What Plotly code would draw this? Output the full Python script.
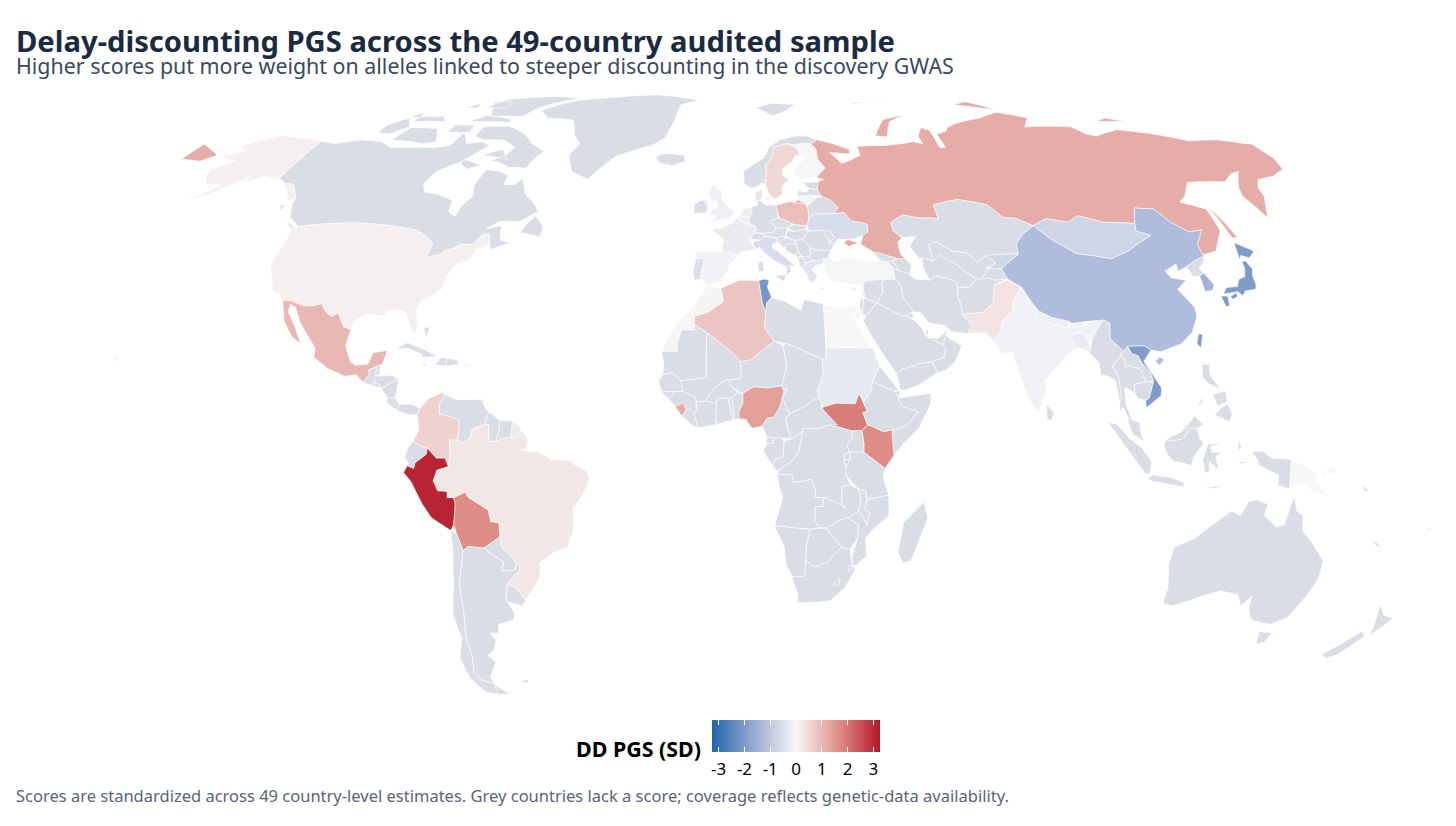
import plotly.graph_objects as go
from plotly.colors import sample_colorscale

# scores (SD units), everything else is grey
score_iso = ['USA', 'MEX', 'COL', 'PER', 'BOL', 'BRA', 'GUF', 'RUS', 'SWE', 'DNK', 'FIN', 'POL', 'EST', 'LTU', 'NLD', 'BEL',
             'UKR', 'GBR', 'FRA', 'ESP', 'PRT', 'ITA', 'GRC', 'TUR', 'EGY', 'SDN', 'MAR', 'ESH', 'DZA', 'TUN',
             'NGA', 'SLE', 'SSD', 'KEN', 'PAK', 'IND', 'BGD', 'NPL', 'BTN', 'KGZ', 'CHN', 'MNG',
             'KOR', 'JPN', 'VNM', 'TWN', 'PNG']
score_val = [0.12, 1.0, 0.6, 3.1, 1.7, 0.25, -0.25, 1.2, 0.5, 0.3, 0.03, 0.9, -0.6, -0.05, -0.2, -0.15,
             -0.55, -0.15, -0.25, -0.1, -0.5, -0.55, -0.4, 0.02, 0.0, -0.3, 0.05, 0.05, 0.8, -2.1,
             1.4, 1.2, 1.9, 1.7, 0.3, -0.1, -0.25, -0.2, -0.1, -0.65, -1.25, -0.73,
             -1.45, -2.0, -2.0, -2.0, 0.0]

title_text = 'Delay-discounting PGS across the 49-country audited sample'
subtitle_text = 'Higher scores put more weight on alleles linked to steeper discounting in the discovery GWAS'
caption_text = 'Scores are standardized across 49 country-level estimates. Grey countries lack a score; coverage reflects genetic-data availability.'
legend_title = 'DD PGS (SD)'
tick_vals = [-3, -2, -1, 0, 1, 2, 3]
tick_text = ['-3', '-2', '-1', '0', '1', '2', '3']

# colour scale ends, the legend runs a bit past +-3
scale_lim = 3.26
pgs_scale = [[0, '#2166ac'], [0.25, '#9aaad2'], [0.5, '#f7f7f7'], [0.75, '#e0918a'], [1, '#b2182b']]
no_data = '#d9dde5'

# rough hand-made country outlines, lon,lat pairs (no topojson without network)
outlines = {
    'CAN': ['-141,69.6 -135,69 -128,70 -120,69.5 -115,68 -108,68 -100,68 -95,68.5 -94,72 -90,69 -85,69.5 -81.5,68.5 -85,66 -87,64.5 -93,62 -94.5,59 -92.5,57 -88,56.5 -82.5,55 -82,52.5 -79.5,51.3 -79,54 -77,56 -78.5,58.7 -77.5,62.4 -73,62 -69.5,61 -69.5,58.8 -66,58.8 -64.5,60.3 -61.5,56.5 -58,54.5 -55.7,52.5 -60,50.2 -66,50.2 -69,48.5 -65,49.2 -64.5,47.5 -64,46 -61,45.3 -66,43.8 -66.5,45 -67.5,47.3 -69.5,47.3 -71,45 -74.7,45 -76.5,44 -79,43.3 -79,42.8 -83,42 -82.5,45.3 -84.5,46.5 -88.5,48.2 -95,49 -123,49 -127,51 -130,54.5 -130,55.5 -135,59 -137.5,59 -141,60.3',
            '-80,73.7 -76,72.8 -71,71 -67.5,69 -62,67 -64,65 -65,62.8 -71,63 -75,64.3 -78,64.6 -74,66 -72.5,68 -78,70 -85,70 -89,71 -89,73.5',
            '-117,70 -105,69 -101,69.5 -105,73 -115,73.3', '-90,76.5 -78,76.5 -75,79 -62,82.3 -72,83 -90,82 -95,80',
            '-125,72 -120,71.5 -116,73.5 -120,76 -125,74', '-96,75 -80,74.7 -82,75.8 -92,76.8', '-117,75 -105,75 -108,76.5 -117,76.3',
            '-95,79 -87,79 -88,81 -95,81', '-100,72 -92,72 -93,74 -100,74', '-87,65 -80,63.5 -84,62.5 -87,64',
            '-59,47.7 -53,46.7 -53,49 -56,51.5 -58,49.5', '-128,50.7 -123.5,48.4 -125,48.7', '-133,54 -131.5,54 -131.5,52.5',
            '-104,79 -99,79 -100,80.5', '-121,76.5 -116,76 -117,77.5', '-82,66 -73,65 -76,67.5'],
    'USA': ['-124.7,48.4 -123,49 -95,49 -88.5,48.2 -84.5,46.5 -82.5,45.3 -83,42 -79,42.8 -79,43.3 -76.5,44 -74.7,45 -71,45 -69.5,47.3 -67.5,47.3 -66.9,44.8 -70,43.7 -70.5,41.7 -74,40.6 -75.5,38 -76,35 -78,33.8 -81,32 -81.3,30 -80,26.8 -80.5,25.2 -81.8,26 -82.8,28 -84,30 -86,30.4 -89,30.3 -89.3,29.1 -91,29.2 -94,29.6 -97,28 -97.2,26 -99.3,26.8 -101.4,29.7 -103,29 -104.8,30 -106.5,31.8 -108.2,31.4 -111,31.3 -114.8,32.5 -117.1,32.5 -118.5,34 -120.6,34.6 -122.4,37.5 -124.3,40.3 -124.2,43 -124,46.2',
            '-141,69.6 -141,60.3 -137.5,59 -135,59 -130,55.5 -132,55 -135,57.5 -139,59.7 -146,60.8 -151,59.3 -150,61 -154,58.5 -158,56.3 -163,54.8 -158,57.5 -157,58.8 -162,59 -165,61 -166,62.5 -161,64.5 -168,65.6 -162,67 -166.5,68.3 -157,71.2 -150,70.5',
            '-156,20.2 -155,19.7 -155.7,19 -156,19.6'],
    'MEX': ['-117.1,32.5 -114.8,32.5 -111,31.3 -108.2,31.4 -106.5,31.8 -104.8,30 -103,29 -101.4,29.7 -99.3,26.8 -97.2,26 -97.8,22.5 -96,19 -94.5,18.2 -91.5,18.5 -90.5,21 -87,21.5 -87.8,18.3 -89.1,18 -91,17.2 -90.8,16 -92.2,14.5 -94,16.1 -97,15.8 -101.5,17.5 -105.5,20 -105.5,22 -109,25.8 -111,28 -113,31 -114.7,31.7 -114.5,30 -112,27 -110,24 -109.5,23 -112,24.5 -115,28 -116,30.5'],
    'GTM': ['-92.2,14.5 -90.8,16 -91,17.2 -89.1,17.8 -89.2,15.9 -88.3,15.7 -89.3,14.4 -90,13.8'],
    'BLZ': ['-89.1,18 -88.2,18.4 -88.3,16 -89.2,15.9'],
    'HND': ['-89.2,15.9 -88,15.8 -85,16 -83.2,15 -84.5,14.7 -87.3,13 -88,13.9 -89.3,14.4'],
    'SLV': ['-90,13.8 -89.3,14.4 -87.8,13.9 -87.8,13.2'],
    'NIC': ['-87.3,13 -84.5,14.7 -83.2,15 -83.7,11 -85.7,11.1'],
    'CRI': ['-85.7,11.1 -83.7,11 -82.6,9.6 -83,8.2 -85.7,9.9'],
    'PAN': ['-83,8.2 -82.6,9.6 -79.5,9.6 -77.3,8.7 -77.9,7.2 -80.3,7.3'],
    'CUB': ['-85,21.9 -82,23.2 -77,21.5 -74.2,20.2 -77.7,19.9 -78,20.7 -82,22'],
    'HTI': ['-74.4,18.4 -71.7,18 -71.7,19.8 -73,19.9'],
    'DOM': ['-71.7,18 -68.4,18.4 -69,19.4 -71.7,19.8'],
    'JAM': ['-78.3,18.3 -76.3,18 -77,18.5'],
    'PRI': ['-67,18 -65.7,18.2 -66.5,18.5'],
    'BHS': ['-78.5,26.6 -77,26.6 -77.5,24.2'],
    'TTO': ['-61.8,10.1 -61,10.2 -61.4,10.7'],
    'GRL': ['-73,78.2 -68,76 -58,75.5 -54,71 -51,69 -53,66 -50,62 -44,60 -42,62 -37,65.8 -26,68.5 -22,70.5 -20,75 -19,80 -12,81.5 -30,83.6 -50,82.5 -62,81.5 -68,80'],
    'COL': ['-77.3,8.7 -75.5,10.7 -72,12.2 -71.3,11.8 -72.5,9.3 -72.4,7.4 -70,7 -67.5,6.2 -67.3,3.5 -67.8,1.7 -69.8,1.7 -69.5,-1 -70,-4.2 -70.8,-2.3 -73,-2.3 -75.2,-0.1 -77,0.4 -78.8,1.4 -77.4,4 -77.9,7.2'],
    'VEN': ['-71.3,11.8 -68.2,10.6 -64,10.6 -62,10.7 -60.8,8.5 -60,8 -61,5.2 -64,4.1 -64.5,2 -66.3,1 -67.8,1.7 -67.3,3.5 -67.5,6.2 -70,7 -72.4,7.4 -72.5,9.3'],
    'GUY': ['-60,8 -57.2,6 -57.3,3.5 -58,1.5 -59.8,1.3 -60,5 -61,5.2'],
    'SUR': ['-57.2,6 -54,5.9 -54.2,3.5 -54.5,2.3 -56.5,1.9 -58,1.5 -57.3,3.5'],
    'GUF': ['-54,5.9 -51.7,4.2 -52.8,2.3 -54.5,2.3 -54.2,3.5'],
    'ECU': ['-78.8,1.4 -77,0.4 -75.2,-0.1 -75.5,-1.5 -78.3,-3.3 -78.7,-4.6 -80.3,-4 -80,-3.3 -81,-2.2 -80,0'],
    'PER': ['-75.2,-0.1 -73,-2.3 -70.8,-2.3 -70,-4.2 -72.9,-5 -73.9,-7.3 -72.9,-9.5 -70.5,-9.6 -70.6,-11 -69,-11 -68.7,-12.5 -69.2,-15.5 -69.5,-17 -70.4,-18.3 -75,-15.5 -77,-12.5 -79.5,-7.5 -81.3,-5.5 -80.3,-4 -78.7,-4.6 -78.3,-3.3 -75.5,-1.5'],
    'BOL': ['-69,-11 -66,-9.8 -65.3,-11 -60.5,-13.7 -60,-16.3 -58,-16.5 -58,-19.7 -62.5,-22.2 -66.3,-21.8 -67.8,-22.8 -69,-19 -69.5,-17 -69.2,-15.5 -68.7,-12.5'],
    'PRY': ['-58,-19.7 -57.8,-22.1 -55.5,-24 -54.6,-25.5 -54.8,-27 -58.5,-27.3 -57.7,-25.3 -62.5,-22.2'],
    'CHL': ['-70.4,-18.3 -69,-19 -67.8,-22.8 -68.4,-25 -70,-30 -70.4,-36 -71.8,-42 -71.8,-46 -73,-49.5 -72,-51.5 -68.4,-52.4 -68.6,-54.9 -72,-54.5 -75,-51 -75.5,-46.5 -73,-42 -73.6,-37 -71.5,-30 -70.4,-23'],
    'ARG': ['-66.3,-21.8 -62.5,-22.2 -57.7,-25.3 -58.5,-27.3 -54.8,-27 -54.6,-25.5 -53.7,-26.3 -53.8,-27.2 -55.7,-28.4 -57.6,-30.2 -58.2,-32.5 -58.4,-34 -57,-36.5 -57.5,-38 -62,-39 -62.5,-41 -65,-41 -63.8,-42.5 -65.5,-45 -67.5,-46 -65.8,-47.5 -69,-51 -68.4,-52.4 -72,-51.5 -73,-49.5 -71.8,-46 -71.8,-42 -70.4,-36 -70,-30 -68.4,-25 -67.8,-22.8',
            '-68.6,-52.7 -65.2,-54.8 -68.6,-54.9'],
    'URY': ['-57.6,-30.2 -55.5,-30.8 -53.4,-33.7 -54.5,-34.9 -58.4,-34 -58.2,-32.5'],
    'BRA': ['-51.7,4.2 -50,1.7 -50.5,0 -51.5,-0.6 -48.5,-1 -48,-0.7 -44.3,-2.5 -40,-2.9 -35.2,-5.3 -34.8,-7.5 -37,-11 -39,-13.5 -39.2,-18 -41,-22 -44.5,-23.1 -48.5,-25.5 -48.7,-28.5 -52,-32.2 -53.4,-33.7 -55.5,-30.8 -57.6,-30.2 -55.7,-28.4 -53.8,-27.2 -53.7,-26.3 -54.6,-25.5 -55.5,-24 -57.8,-22.1 -58,-19.7 -58,-16.5 -60,-16.3 -60.5,-13.7 -65.3,-11 -66,-9.8 -69,-11 -70.6,-11 -70.5,-9.6 -72.9,-9.5 -73.9,-7.3 -72.9,-5 -70,-4.2 -69.5,-1 -69.8,1.7 -67.8,1.7 -66.3,1 -64.5,2 -64,4.1 -61,5.2 -60,5 -59.8,1.3 -58,1.5 -56.5,1.9 -54.5,2.3 -52.8,2.3'],
    'FLK': ['-61,-51.8 -58,-51.5 -59,-52.3'],
    'ISL': ['-24,65.5 -22,64 -18,63.4 -14,64.5 -14.5,66 -18,66.3 -22,66.4'],
    'IRL': ['-10,52 -6.3,52.2 -6,53.5 -6.2,54.1 -7.5,55.2 -8.5,55 -10,54'],
    'GBR': ['-5.5,50 -1,50.7 1.3,51.2 1.7,52.7 0,53.5 -1.5,55 -2,56 -2,57.6 -4,57.6 -3,58.6 -5,58.6 -6,56.5 -4.8,55 -3.2,54.8 -3,53.5 -4.7,53 -5,51.7 -3,51.3',
            '-6.2,54.1 -5.5,54.6 -6.2,55.2 -7.5,55.2'],
    'NOR': ['5,59 7,58 8.5,58.2 10.6,59.2 11.5,59 12.2,61 12.2,63.5 14.5,65.5 15.5,68 20,69 23,68.6 25.5,69 28.5,69 31,70 28,71 24,71 18,70 14,68 12,65.5 8,63.5 5,62',
            '11,79 17,76.6 22,78 27,80 18,80.5'],
    'SWE': ['11.5,59 12.8,56 14.2,55.4 16.5,56.5 16.8,58.5 19,60 17.2,61 17.5,62.5 21,64.5 22.3,65.8 24,65.9 23.5,67.8 20.5,69 15.5,68 14.5,65.5 12.2,63.5 12.2,61'],
    'FIN': ['24,65.9 25.3,65.2 21.5,63 21.3,61 23,60 25.5,60.3 27.8,60.5 31.3,62.8 29.5,65 29.8,67.5 28.5,69 25.5,69 23,68.6 20.5,69 23.5,67.8'],
    'DNK': ['8.2,55 8.2,57 10.6,57.7 10.3,56 9.7,54.9', '11.2,55.7 12.5,56 12.2,55'],
    'DEU': ['6,51 7,53.5 8.7,54 8.6,54.9 9.7,54.9 11,54 14.2,53.9 14.7,51 12.2,50.3 13.7,48.7 13,47.5 7.6,47.6 8.2,49 6.2,49.5 6,50.7'],
    'NLD': ['3.5,51.4 4.7,53 7,53.4 7,52 6,51 5.8,50.8'],
    'BEL': ['2.6,51 3.5,51.4 5.8,51.2 6.2,50.2 5.7,49.5 4.2,50'],
    'LUX': ['5.8,49.5 6.4,49.5 6.1,50.1'],
    'FRA': ['-1.8,43.4 -1.2,46 -4.7,48.4 -1.6,48.7 1.5,50 2.6,51 4.2,50 5.7,49.5 8.2,49 7.6,47.6 6,46.2 7.5,43.8 3.2,43.2 3,42.5',
            '8.6,42 9.5,42 9.3,43'],
    'ESP': ['-9.2,43.2 -1.8,43.4 3,42.5 0.5,40.6 -0.4,38.5 -2,36.8 -5.5,36 -7.4,37.2 -7,39.6 -6.5,41.8 -8.8,41.9'],
    'PRT': ['-8.8,41.9 -6.5,41.8 -7,39.6 -7.4,37.2 -9,37 -9.5,38.7'],
    'CHE': ['6,46.2 7.6,47.6 9.5,47.5 10.4,46.7 9,46'],
    'AUT': ['9.6,47.5 13,47.6 13.7,48.7 17,48.8 16.2,46.9 13.5,46.5 10.4,46.8'],
    'ITA': ['7.5,43.8 6.9,45.5 9,46 10.4,46.7 13.5,46.5 13.7,45.5 12.3,45 12.5,44 13.7,43.5 16,41.9 18.4,40 16.8,40.3 17,39 15.7,38 15.8,40 12.5,41.4 10.2,43 8.8,44.4',
            '12.5,38 15.6,38.2 15,36.7', '8.2,39 9.7,39 9.5,41.2 8.2,41'],
    'POL': ['14.2,53.9 18.5,54.8 23,54.3 23.8,52.6 23.5,51 22.7,49.2 19,49.4 14.9,51'],
    'CZE': ['12.2,50.3 14.9,51 18.8,49.6 17,48.8 13.7,48.7'],
    'SVK': ['17,48.8 18.8,49.5 22.5,49.1 22,48.4 18.8,47.8'],
    'HUN': ['16.2,46.9 17,48.2 18.8,47.9 22,48.4 22.9,48 21,46.2 18.8,45.9'],
    'SVN': ['13.5,46.5 16.2,46.9 15.5,45.6 13.7,45.5'],
    'HRV': ['13.7,45.5 15.5,46 16.5,46.5 18.8,45.9 19,45 16,45 15.5,44 18.5,42.5 16,43.4 14.8,45'],
    'BIH': ['16,45.1 19,45 19.5,43.5 18.5,42.5 15.8,44'],
    'SRB': ['18.8,45.9 21,46.2 22.6,44.5 22.9,43 22.4,42.3 20.6,42 19.5,43.3 19,45'],
    'MNE': ['18.5,42.5 19.5,43.3 20,42.6 19.3,42'],
    'ALB': ['19.3,42 20.5,42.2 21,40.8 20.2,39.6 19.4,40.5'],
    'MKD': ['20.5,42.2 22.4,42.3 23,41.3 21,40.9'],
    'GRC': ['20.2,39.6 21,40.8 23,41.3 26.3,41.7 26,40.8 23.5,40.2 22.8,39.3 24,38 23,36.5 21.7,36.8 21.2,38.4', '23.5,35.5 26.3,35.2 24.5,35'],
    'BGR': ['22.6,44.2 24.8,43.7 28.5,43.7 27.6,42.5 28,42 26.3,41.7 23,41.3 22.4,42.3 22.9,43'],
    'ROU': ['21,46.2 22.9,48 26.6,48.2 28.2,46.5 28.2,45.4 29.7,45.2 28.6,43.7 24.8,43.7 22.6,44.2'],
    'MDA': ['26.6,48.2 29,48 30,46.4 28.2,45.4 28.2,46.5'],
    'UKR': ['22.9,48 22.7,49.2 23.5,51 25,51.9 31,52 34,52.3 35.5,50.4 40,49.6 39.8,47.8 38.2,47.1 35,46.2 33.6,46.1 30.8,46.2 29.7,45.2 28.2,45.4 30,46.4 29,48 26.6,48.2'],
    'BLR': ['23.5,51 23.6,53.9 26.5,55.6 28.2,56.1 31,55 32.5,53.3 31,52 25,51.9'],
    'LTU': ['21,56 21,55.2 23,54.3 23.6,53.9 26.5,55.6 25,56.3'],
    'LVA': ['21,56 25,56.3 28.2,56.1 27.5,57.5 25,58 24.4,57.2 23,57 21.6,57.5'],
    'EST': ['23.5,59.2 28,59.5 27.4,57.6 25,58 24.3,58.3'],
    'CYP': ['32.4,35 34.5,35.5 33.7,34.8'],
    'TUR': ['26,40 26.3,41.7 28,42 29,41.2 33,42 38,41 41.5,41.5 43.5,41.1 44.7,39.7 44.8,37.2 42.3,37.2 36.7,36.8 36,36 32.5,36 30.5,36.5 28,36.7 26.5,38.5'],
    'GEO': ['40,43.4 46.5,41.8 45,41.3 43.5,41.1 41.5,41.5'],
    'ARM': ['43.5,41.1 45,41.3 46.5,39 44.7,39.7'],
    'AZE': ['45,41.3 46.5,41.8 48.5,41.8 50,40.3 48.8,38.4 46.5,39'],
    'RUS': ['28,59.5 30,60 27.8,60.5 31.3,62.8 29.5,65 29.8,67.5 28.5,69 31,70 36,69 41,67.5 40.5,66.3 34,66.7 37,64 40,64.7 44,66 44,68.3 54,68.5 60,69 64,69.5 67,69 67,71 70,73.3 72.5,72.5 72,68 74,68 74,71.5 78,72.3 80,73.5 87,75 95,76 104,77.7 113,76 108,73.5 115,73.7 125,73.5 127,71.5 130,71 140,72.7 150,71.7 160,69.7 170,70 178,69 180,68.9 180,65 178,62.5 172,60.8 166,60 163,58 162,56 156.7,51 155.5,56 157,58 163,62 160,61.5 155,59.5 143,59.3 138,56 135,54.7 141,53 140,48 135,43.5 131,42.7 130.7,42.3 131,45 135,48.3 131,47.8 127.5,50 125.5,53 120,53.3 117,49.7 108,50 102,51.5 98,50 92,50.8 87.5,49.2 83,51 80,51 77,54 71,55 69,55.3 61,54 61,50.8 59,51 55,51 51,51.7 47,50 47,48 49,46.5 47.5,45.5 47.5,43 48.5,41.8 46.5,41.8 40,43.4 37,45 38.2,47.1 39.8,47.8 40,49.6 35.5,50.4 34,52.3 31,52 32.5,53.3 31,55 28.2,56.1 27.4,57.6',
            '-180,68.9 -175,67.5 -170,66 -173,64.5 -180,65', '142,54 143,50 143.5,46.5 142,46.5 142,50', '52,71 56,70.8 60,75 68,77 58,75.5',
            '91,80 97,81 105,78.5 100,79', '137,75 148,75 142,76', '48,80.2 60,81 65,81 52,80.8', '19.8,54.4 22.8,54.4 21,55.2', '33.6,46.1 36.5,45.3 33.5,44.5 32.5,45.4'],
    'KAZ': ['47,48 47,50 51,51.7 55,51 59,51 61,50.8 61,54 69,55.3 71,55 77,54 80,51 83,51 87.5,49.2 83,47 80.5,45 80,42.8 75,42.8 71,42.5 68,41 66,43 62,43.5 58.5,45.5 56,45 56,41.3 53,42 52.5,41.7 50.5,44.5 53,46.8 49,46.5'],
    'UZB': ['56,45 58.5,45.5 62,43.5 66,43 68,41 71,42.5 73,40.8 71,40 68,37.2 66.5,37.3 64,39 61.5,41 58,42.5 56,41.3'],
    'TKM': ['53,42 56,41.3 58,42.5 61.5,41 64,39 66.5,37.3 64,35.3 61,35.6 61,36.7 56,38 54,37 53,39.5'],
    'KGZ': ['71,42.5 75,42.8 80,42.8 74,39.5 70,39.8 71,40 73,40.8'],
    'TJK': ['68,37.2 71,40 70,39.8 74,39.5 75,37.2 71.5,37 70,37.5'],
    'AFG': ['61,35.6 64,35.3 66.5,37.3 68,37.2 70,37.5 71.5,37 74.8,37.2 71,36 70,33.5 69.5,31.8 66.3,29.9 61,29.5 61,31.5 60.5,33.5'],
    'PAK': ['61,29.5 66.3,29.9 69.5,31.8 70,33.5 71,36 74.8,37 77.8,35.5 75,32.5 74,30 71,28 70,25.5 68,23.7 66.5,25.4 61.6,25.2 63,27'],
    'IND': ['68,23.7 70,25.5 71,28 74,30 75,32.5 77.8,35.5 79.5,32.5 81,30.2 80,28.8 84,27.3 88,26.5 88.8,27.2 89,26.8 92,26.8 94,28 97.3,28.2 95,26 93.5,24 92.3,23.5 91.5,24 92.3,25 89.8,25.3 88.2,24.5 88.8,22 86.5,20.5 82,16.5 80.2,15 80,12 78,8.2 76.5,9 74.5,14 73,19 72.8,21 70,20.8 69,22.3'],
    'NPL': ['80,28.8 81,30.2 84,28.8 88,28 88,26.5 84,27.3'],
    'BTN': ['88.8,27.2 91.5,28 92,26.8 89,26.8'],
    'BGD': ['88.8,22 88.2,24.5 89.8,25.3 92.3,25 91.5,24 92.3,23.5 92.5,21 90,22'],
    'LKA': ['80,9.7 81.8,7.5 81,6 80,6.2'],
    'CHN': ['74,39.5 80,42.8 80.5,45 83,47 87.5,49.2 91,46 96,43 105,41.8 111,43.6 119.5,47 116,48 117,49.7 120,53.3 125.5,53 127.5,50 131,47.8 135,48.3 131,45 130.7,42.3 128,41.5 124.4,40 121.5,39 122,40.6 118,39 119,37.5 122.6,37 119.3,35 122,31 121.8,29 119.5,25.5 116,22.9 110.5,21.2 108,21.6 106.5,22.5 102.2,22.4 101,21.3 98,24 98.7,27.5 97.3,28.2 94,28 92,27.8 89,27.5 88,28 84,28.8 81,30.2 79.5,32.5 78,35.5 75,37.2',
            '108.7,19.2 110,20 111,19.5 109.5,18.2'],
    'TWN': ['120.1,23 121,25.2 122,25 120.9,22'],
    'MNG': ['87.5,49.2 92,50.8 98,50 102,51.5 108,50 117,49.7 116,48 119.5,47 111,43.6 105,41.8 96,43 91,46'],
    'PRK': ['124.4,40 128,41.5 130.7,42.3 129.7,41 127.5,39.5 128.3,38.6 126.7,38 125,37.8'],
    'KOR': ['126.7,38 128.3,38.6 129.5,36 128.5,34.8 126.3,34.5 126.7,37'],
    'JPN': ['130.9,34 132.5,35.4 135.5,35.6 136.8,37.2 138.8,37.8 140,39.7 140.3,41.2 141.4,41.3 142,39.5 141,38 140.7,36 140,35 137,34.6 135.8,33.5 135,34.5 133,34.2',
            '130,33.5 131.8,33.5 131.3,31.3 130.3,31.2', '132.4,33.3 134.5,34.3 134.3,33.4 133,32.8', '140,41.5 141.5,45.4 145.5,43.5 143,42 141,42.5'],
    'MMR': ['92.3,21 93.5,24 95,26 97.3,28.2 98.7,27.5 98,24 101,21.3 100,20.3 97.5,18 98.8,15.5 99,11 98.5,10 97.8,15 95.5,16 94.3,16 94.3,18.8'],
    'THA': ['100,20.3 101,19.5 100.8,18 102.5,17.9 104.7,17.4 105.5,14.5 102.5,14 102.5,12 100.9,13 100,13.4 100,9.5 101,6.8 101.8,5.9 100.3,6.7 99.2,9 98.3,8 98.5,10 99,11 98.8,15.5 97.5,18'],
    'LAO': ['101,21.3 102.2,22.4 103,20.8 104.5,20.3 105.2,18.7 107,16.6 107.5,14.7 105.5,14.5 104.7,17.4 102.5,17.9 100.8,18 101,19.5 100,20.3'],
    'KHM': ['102.5,14 105.5,14.5 107.5,14.7 106,11 105,10.4 103,11 102.5,12'],
    'VNM': ['102.2,22.4 106.5,22.5 108,21.6 105.7,19 107.2,16.6 109.3,13.2 109,11.5 105,8.8 105,10.4 106,11 107.5,14.7 107,16.6 105.2,18.7 104.5,20.3 103,20.8'],
    'MYS': ['100.3,6.7 101.8,5.9 103,5.7 103.5,2.6 104,1.4 101.3,3 100.3,5.5', '109.6,1.8 111,1.4 114,2 115.5,4.2 117.5,4.2 119,5.2 117,7 113.5,3.5 111,2.5'],
    'BRN': ['114,4.6 115,5 115,4.2'],
    'IDN': ['95.3,5.5 97.5,5.2 100.5,2 103.5,0 106,-3 105.8,-5.8 104.5,-5.7 100.5,-1', '105.2,-6.8 106.5,-6 110.5,-6.5 114.4,-7.7 114.4,-8.7 106.5,-7.4',
            '109,0.4 109.6,1.8 111,1.4 114,2 115.5,4.2 117.5,4.2 118,2 119,1 116.5,-2 116,-4 114,-3.4 111.5,-3 110,-1.5',
            '119.5,-5.5 118.8,-2.8 120,0.8 124,1 120.7,0.3 121,-1 123.5,-1 122,-2 123,-5 120.5,-3 120.5,-5.5', '119,-8.6 125,-8.5 122,-9',
            '131,-0.8 134,-0.8 136,-2.3 141,-2.6 141,-9.1 138,-8.3 138,-6 133,-4 132.5,-2.7', '127.5,2 128.5,0 127.7,-0.5', '128,-3 130.8,-3.3 128,-3.5'],
    'PHL': ['120.5,18.5 122.2,18.4 122,16 124,13 121.5,14 120,15.5', '122,7.2 123.7,8.7 125.5,9.7 126.5,7.3 125.5,5.7 124,6.5', '122,11.8 125.3,12.5 125.5,10.2 123,9.2', '117.3,8.4 119.5,11.3 119.3,10.2'],
    'PNG': ['141,-2.6 145,-4.3 147.8,-6 147,-7 150.7,-10.5 147,-9.8 144,-7.7 141,-9.1', '148.5,-5.6 152,-4.2 152,-5.5 149,-6.3'],
    'NZL': ['172.7,-34.5 175.5,-37 178.5,-37.7 175.5,-41.6 174.8,-39.5', '172.5,-40.6 174.3,-41.7 170.8,-45.9 168.5,-46.6 166.5,-45.8'],
    'AUS': ['114,-22 113.5,-26 115,-31 115,-34.3 118,-35 124,-33 129,-31.6 134,-32.5 136,-35 137.8,-32.8 138.5,-35.5 140.5,-38 144,-38.7 146.5,-39 150,-37.5 152,-33 153.3,-29 153,-25 149,-21 146,-18.5 145.3,-15 143.5,-14 142.5,-10.8 141.7,-13 141,-17 139,-17.5 135.5,-15 136,-12.5 133,-11.5 131,-12 129.5,-15 127,-14 125,-15.5 122,-17.5 119,-20',
            '144.7,-40.7 148.3,-40.9 148,-43 146,-43.5'],
    'NCL': ['164,-20 167,-22 165.5,-21.7'],
    'FJI': ['177.3,-18 178.6,-17.7 178,-18.3'],
    'SLB': ['159,-8 161,-9.5 160,-9.7'],
    'IRN': ['44.8,37.2 44.7,39.7 46.5,39 48.8,38.4 50,37.3 54,37 56,38 61,36.7 61,35.6 60.5,33.5 61,31.5 61,29.5 63,27 61.6,25.2 57.5,25.7 56,27 52,27.6 50,30 48.5,30 46.2,33 46,35.8'],
    'IRQ': ['42.3,37.2 44.8,37.2 46,35.8 46.2,33 48.5,30 47.7,30 46.5,29 44.7,29.2 39,32 41,34.4 41,36.4'],
    'SYR': ['36,36 36.7,36.8 42.3,37.2 41,36.4 41,34.4 39,32 36,33 35.9,35'],
    'LBN': ['35.1,33.1 36,33.9 35.9,34.6'],
    'ISR': ['34.3,31.3 35,29.5 35.6,32.8 35,33'],
    'JOR': ['35,29.4 36,29.2 39,32 36,33 35.6,32.8'],
    'SAU': ['35,28 36,29.2 39,32 44.7,29.2 46.5,29 47.7,28.5 48.5,28 50,26.5 50.8,24.8 51.5,24.3 55,22.7 55.7,22 55,20 52,19 49,18.6 44,17.3 43,16.5 42.7,16.4 40,20 39,21.5 37,24.5'],
    'YEM': ['42.7,16.4 43,16.5 44,17.3 49,18.6 52,19 53,16.6 48.5,14 45,12.8 43.5,12.7'],
    'OMN': ['55,20 55.7,22 55,22.7 56,24.9 56.5,24.4 59.8,22.5 57.8,19 55,17 53,16.6 52,19'],
    'ARE': ['51.5,24.3 55,22.7 56,24.9 56.3,25.8 54,24.2'],
    'QAT': ['51,24.6 51.6,25.5 51.2,26.1 50.8,25.5'],
    'KWT': ['46.5,29 47.7,30 48.3,29 47.7,28.5'],
    'MAR': ['-13,27.7 -8.7,27.7 -8.7,29 -5,30 -1.2,32.3 -1.8,35 -2.2,35.2 -5.5,35.9 -6.8,34 -9.7,30.5'],
    'ESH': ['-17,21.3 -13,21.3 -13,23 -12,26 -8.7,26 -8.7,27.7 -13,27.7 -14.8,25.5'],
    'DZA': ['-1.8,35 -1.2,32.3 -5,30 -8.7,29 -8.7,27.3 -4.8,25 1.1,21 3.2,19 5.8,19.4 11.9,23.5 9.5,26.5 9.8,30 9,32 8.2,36.9 3,37 -2,35.2'],
    'TUN': ['8.2,36.9 9.8,37.3 11,37 10.5,35.5 11.5,33.2 10.2,32 9.8,30 9,32'],
    'LBY': ['11.5,33.2 15,32.3 19,30.3 20,32.7 25,31.7 25,20 24,19.5 15,23 11.9,23.5 9.5,26.5 9.8,30 10.2,32'],
    'EGY': ['25,31.7 29,31 32.3,31.2 34.3,31.3 34.9,29.5 33.7,27.8 32.6,29.9 35,24 37,22 25,22'],
    'SDN': ['25,22 37,22 38.5,18 36.5,14.5 36,12.5 34,10 33,12 32,9.7 27,9.8 24,9 23.5,10 22.8,11 22.5,13 24,15.7 24,19.5 25,20'],
    'SSD': ['24,9 27,9.8 32,9.7 33,12 34,10 35,8 33.8,7.8 35,5 33.5,3.8 31,3.7 28,4.5 25,5 23.5,8.8'],
    'ETH': ['36.5,14.5 37,14.3 42,12.5 43,11 42.8,10.9 44,9 47.8,8 45,5 42,4 39,3.5 35.8,4.8 35,5 33.8,7.8 35,8 34,10 36,12.5'],
    'ERI': ['38.5,18 43,12.7 42,12.5 37,14.3 36.5,14.5'],
    'DJI': ['42,12.5 43.4,12.6 43,11'],
    'SOM': ['42.8,10.9 51,12 51,10 48,4.5 44,1 41.5,-1.7 41,3.9 42,4 45,5 47.8,8 44,9'],
    'KEN': ['33.5,3.8 35,5 35.8,4.8 39,3.5 41,3.9 41.5,-1.7 39.3,-4.6 37.7,-3.5 34,-1 34,1'],
    'UGA': ['31,3.7 33.5,3.8 34,1 34,-1 30.5,-1 29.7,0.5 31,2.2'],
    'TZA': ['30.5,-1 34,-1 37.7,-3.5 39.3,-4.6 38.9,-6.5 40.4,-10.5 35,-11.5 34.5,-9.5 32.8,-9.2 29.5,-6 29.4,-4.4 30.6,-2.5'],
    'RWA': ['29,-1.4 30.5,-1 30.6,-2.5 29,-2.7'],
    'BDI': ['29,-2.7 30.6,-2.5 29.5,-4.4'],
    'COD': ['12.3,-5.9 13,-4.7 16,-3 17.7,-0.7 18.6,3.5 18.6,4.3 22.5,4.2 25,5 28,4.5 31,3.7 31,2.2 29.7,0.5 30.5,-1 29,-1.4 29,-2.7 29.5,-4.4 29.5,-6 30.7,-8.2 28.7,-8.5 28.5,-11.8 29.8,-13.4 27,-12 24,-11 22,-11 22,-9.3 21,-7 16.6,-7.7 16,-6'],
    'COG': ['11.2,-4 12.3,-5.1 13,-4.7 16,-3 17.7,-0.7 18.6,3.5 16,2 14,1.4 13.8,-2 11.8,-2.5'],
    'GAB': ['8.8,-0.7 9.8,1 11.3,1 11.3,2.2 13.3,2.2 14,1.4 13.8,-2 11.8,-2.5 11.2,-4'],
    'GNQ': ['9.5,1 11.3,1 11.3,2.2 9.8,2.3'],
    'CMR': ['8.5,4.8 9.8,2.3 11.3,2.2 13.3,2.2 16,2 15,4 14.5,6.5 15.5,7.5 13.7,11 15,13 14.1,13 13,9 11.5,6.8 9.8,6.5 8.7,5'],
    'NGA': ['2.7,6.4 4.4,6.3 6,4.3 8.5,4.8 8.7,5 9.8,6.5 11.5,6.8 13,9 14.1,12.5 13.5,13.7 10,13.2 6.5,13.5 3.7,12 3.7,9.8 2.7,8'],
    'TCD': ['15,13 13.7,11 15.5,7.5 19,9 22,10.8 22.8,11 22.5,13 24,15.7 24,19.5 15,23 14,22.5 15,18 13.5,13.7 14.1,13'],
    'CAF': ['14.5,6.5 15,4 16,2 18.6,3.5 18.6,4.3 22.5,4.2 25,5 27.4,5 23.5,8.8 23.5,10 22.8,11 22,10.8 19,9 15.5,7.5'],
    'NER': ['3.7,12 6.5,13.5 10,13.2 13.5,13.7 15,18 14,22.5 11.9,23.5 5.8,19.4 3.2,19 3.3,15.3 0.2,15 1,13.3'],
    'MLI': ['-12,14.8 -5.5,15.5 -5.5,25 -4.8,25 1.1,21 3.2,19 3.3,15.3 0.2,15 -1.5,14.5 -3,13.5 -4.5,12 -5.5,10.3 -8,10.2 -8.4,11.3 -11.4,12.4'],
    'MRT': ['-17,21.3 -16.3,19 -16.5,16.2 -14,16.6 -12,14.8 -5.5,15.5 -5.5,25 -4.8,25 -8.7,27.3 -8.7,26 -12,26 -13,23 -13,21.3'],
    'SEN': ['-16.5,16.2 -17.5,14.7 -16.7,12.4 -11.4,12.4 -12,14.8 -14,16.6'],
    'GNB': ['-16.7,12.4 -13.7,12.4 -13.7,11.7 -15,11 -16.5,12'],
    'GIN': ['-13.7,12.4 -11.4,12.4 -8.4,11.3 -8,10.2 -7.9,8.5 -8.5,7.6 -9.5,8.5 -10.5,8.4 -11.2,10 -13.3,9.1 -15,11 -13.7,11.7'],
    'SLE': ['-13.3,9.1 -11.2,10 -10.5,8.4 -11.5,6.9'],
    'LBR': ['-11.5,6.9 -10.5,8.4 -9.5,8.5 -8.5,7.6 -7.5,4.4 -9,5'],
    'CIV': ['-8.5,7.6 -7.9,8.5 -8,10.2 -5.5,10.3 -2.9,9.8 -3,5.1 -7.5,4.4'],
    'GHA': ['-3,5.1 -2.9,9.8 -2.8,11 -0.1,11 0.7,8.3 1.2,6.1'],
    'TGO': ['0,11 1,11 1.6,6.2 1.2,6.1 0.7,8.3'],
    'BEN': ['1,11 2.4,12.2 3.7,12 3.7,9.8 2.7,8 2.7,6.4 1.6,6.2'],
    'BFA': ['-5.5,10.3 -4.5,12 -3,13.5 -1.5,14.5 0.2,15 1,13.3 2.4,12.2 1,11 -2.8,11 -2.9,9.8'],
    'AGO': ['12.3,-5.9 16,-6 16.6,-7.7 21,-7 22,-9.3 22,-11 24,-11 24,-13 22,-13 22,-16.3 23.4,-17.6 20.8,-18 13.5,-17.4 11.8,-17.3 13.8,-11 13,-9'],
    'ZMB': ['22,-13 24,-13 24,-11 27,-12 29.8,-13.4 28.5,-11.8 28.7,-8.5 30.7,-8.2 32.8,-9.2 33.5,-11 33,-14 30.3,-15.6 28,-16 25.3,-17.8 23.4,-17.6 22,-16.3'],
    'MWI': ['32.8,-9.2 34.5,-9.5 35,-11.5 34.5,-13.5 35.8,-14.5 35.2,-17 33,-14 33.5,-11'],
    'MOZ': ['40.4,-10.5 40.7,-15 36.8,-18 35,-20 35.5,-24 32.9,-26 32,-26 31.9,-24 33,-20 33,-17 30.3,-15.6 33,-14 35.2,-17 35.8,-14.5 34.5,-13.5 35,-11.5'],
    'ZWE': ['25.3,-17.8 28,-16 30.3,-15.6 33,-17 33,-20 31.2,-22.4 29,-22 25.5,-18.5'],
    'BWA': ['20.8,-18 20,-22 20,-24.8 22,-26.3 25.5,-25.5 29,-22 25.5,-18.5 25.3,-17.8 23.4,-17.8'],
    'NAM': ['11.8,-17.3 13.5,-17.4 20.8,-18 20,-22 20,-28.4 17,-28.7 15,-26 14.4,-22'],
    'ZAF': ['16.5,-28.6 20,-28.4 20,-24.8 22,-26.3 25.5,-25.5 29,-22 31.2,-22.4 32,-26 32.9,-26.9 30.5,-31 27,-33.8 22,-34.2 18.5,-34.2 18.2,-32'],
    'LSO': ['27,-30.5 29,-29 29,-30.3 28,-30.6'],
    'SWZ': ['31,-26 32,-26 32,-27 31,-27'],
    'MDG': ['49.3,-12 50.5,-15.5 47,-25 45,-25.5 43.5,-23 44,-20 44.5,-16.5'],
}

# the page body has an 8px margin, so the figure is a bit smaller than the window
W, H = 1448, 818


def fx(page_x):
    return (page_x - 8) / W


def fy(page_y):
    return 1 - (page_y - 8) / H


def ring_coords(ring):
    pts = [[float(v) for v in p.split(',')] for p in ring.split()]
    # d3 wants small polygons clockwise, otherwise it fills the rest of the globe
    area = sum(a[0] * b[1] - b[0] * a[1] for a, b in zip(pts, pts[1:] + pts[:1]))
    if area > 0:
        pts.reverse()
    return pts + [pts[0]]


def tick_bar(page_y):
    # see-through bar, only there to draw white ticks over the real colour bar
    return go.Scattergeo(lon=[0], lat=[0], mode='markers', hoverinfo='skip', showlegend=False,
                         marker=dict(size=1, opacity=0, color=[0], cmin=-scale_lim, cmax=scale_lim,
                                     colorscale=[[0, 'rgba(0,0,0,0)'], [1, 'rgba(0,0,0,0)']],
                                     colorbar=dict(orientation='h', x=fx(796), xanchor='center', y=fy(page_y), yanchor='top',
                                                   thicknessmode='pixels', thickness=1, lenmode='pixels', len=168,
                                                   xpad=0, ypad=0, outlinewidth=0, ticks='outside', ticklen=5, tickcolor='white',
                                                   tickvals=tick_vals, showticklabels=False)))


scores = dict(zip(score_iso, score_val))

fig = go.Figure()
for code, rings in outlines.items():
    lons, lats = [], []
    for ring in rings:
        for lon, lat in ring_coords(ring):
            lons.append(lon)
            lats.append(lat)
        lons.append(None)
        lats.append(None)
    if code in scores:
        colour = sample_colorscale(pgs_scale, (scores[code] + scale_lim) / (2 * scale_lim))[0]
    else:
        colour = no_data
    fig.add_trace(go.Scattergeo(lon=lons[:-1], lat=lats[:-1], mode='lines', fill='toself', fillcolor=colour,
                                line=dict(color='white', width=0.6), name=code, hoverinfo='name', showlegend=False))

# hidden point that only carries the colour bar; the white outside ticks just push the labels down
fig.add_trace(go.Scattergeo(lon=[0], lat=[0], mode='markers', hoverinfo='skip', showlegend=False,
                            marker=dict(size=1, opacity=0, color=[0], cmin=-scale_lim, cmax=scale_lim, colorscale=pgs_scale,
                                        colorbar=dict(orientation='h', x=fx(796), xanchor='center', y=fy(720), yanchor='top',
                                                      thicknessmode='pixels', thickness=32, lenmode='pixels', len=168,
                                                      xpad=0, ypad=0, outlinewidth=0, ticks='outside', ticklen=3, tickcolor='white',
                                                      tickvals=tick_vals, ticktext=tick_text,
                                                      tickfont=dict(family='Noto Sans', size=17, color='black')))))
fig.add_trace(tick_bar(719))
fig.add_trace(tick_bar(746))

fig.update_geos(projection_type='robinson', visible=False, showframe=False, bgcolor='rgba(0,0,0,0)',
                lonaxis_range=[-180, 180], lataxis_range=[-90, 90],
                domain=dict(x=[fx(8), fx(1448)], y=[fy(812.7), fy(82.7)]))


def label(text, page_x, page_y, size, colour, anchor='left'):
    return dict(text=text, x=fx(page_x), y=fy(page_y), xref='paper', yref='paper', xanchor=anchor, yanchor='middle',
                showarrow=False, font=dict(size=size, color=colour))


fig.update_layout(width=W, height=H, margin=dict(l=0, r=0, t=0, b=0), paper_bgcolor='white',
                  font=dict(family='Noto Sans'),
                  annotations=[
                      label('<b>' + title_text + '</b>', 14, 41, 29.2, '#1a2b40'),
                      label(subtitle_text, 14, 66, 21.4, '#3b4a60'),
                      label(caption_text, 14, 795, 16.5, '#5a6678'),
                      label('<b>' + legend_title + '</b>', 703, 748.5, 21.4, 'black', 'right'),
                  ])

fig.write_html("out.html")
